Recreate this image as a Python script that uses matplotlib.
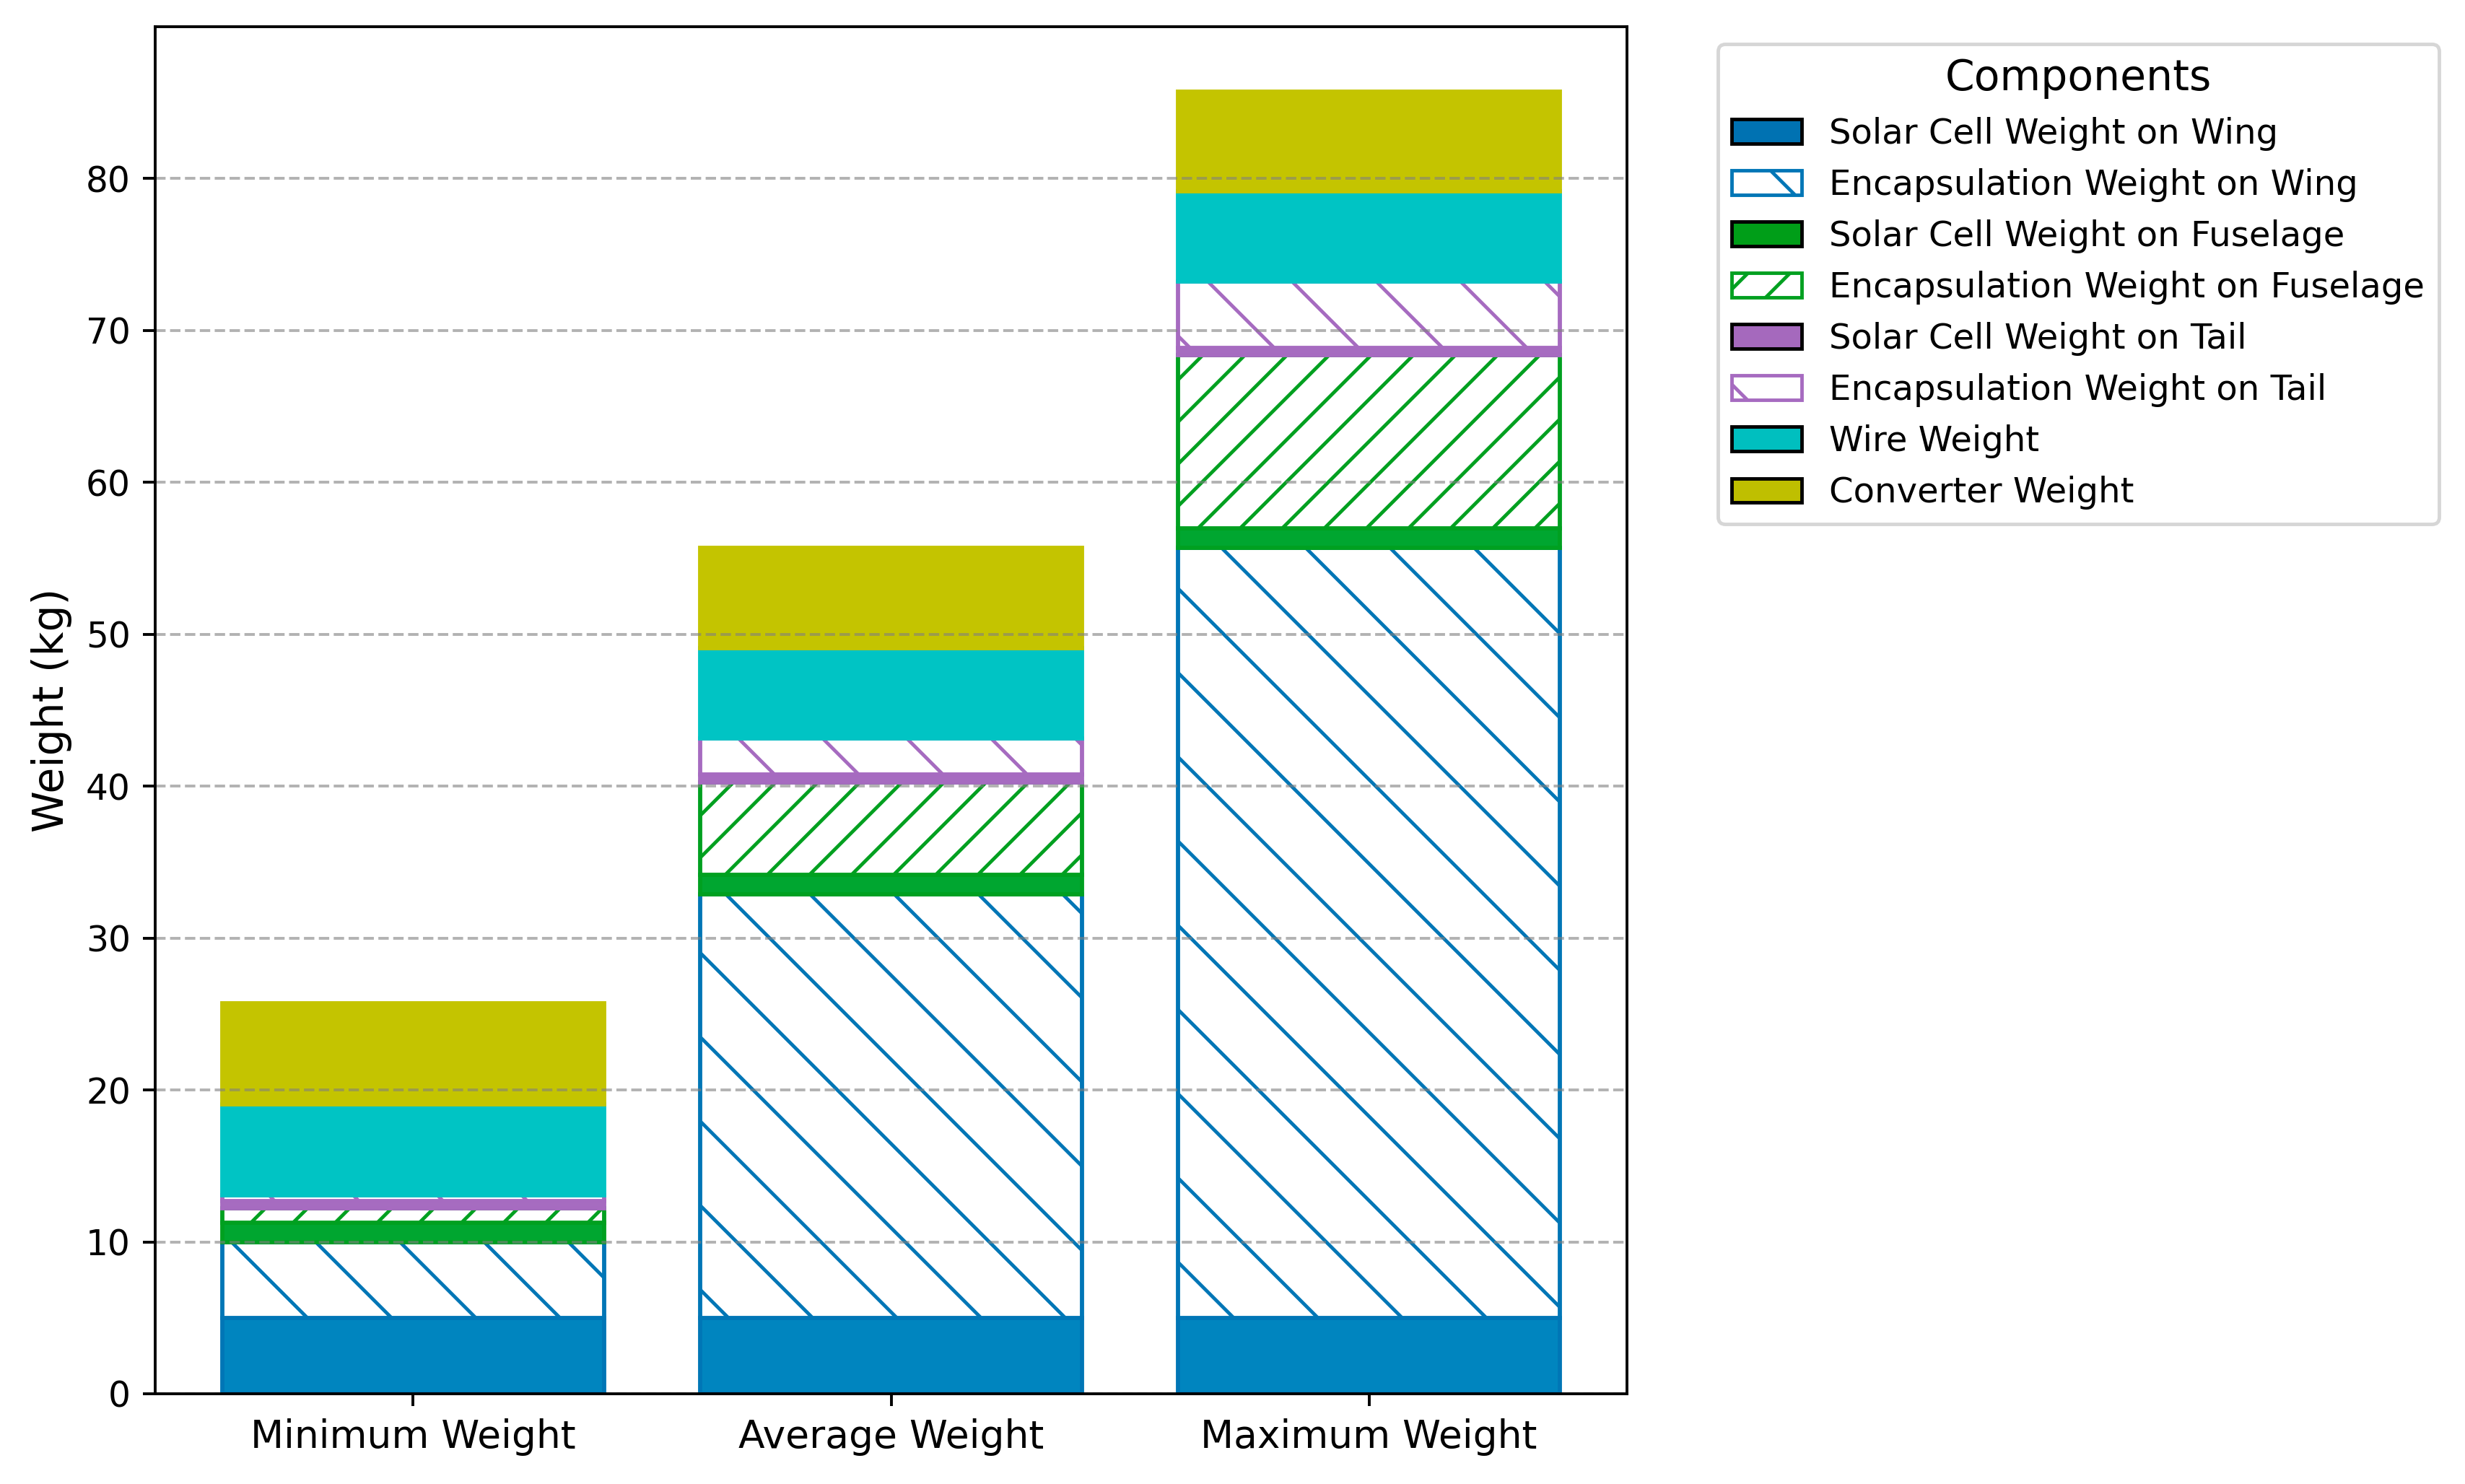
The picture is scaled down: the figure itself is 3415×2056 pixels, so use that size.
import matplotlib
matplotlib.use("Agg")
import matplotlib.pyplot as plt
from matplotlib.patches import Patch
import numpy as np

categories = ['Minimum Weight', 'Average Weight', 'Maximum Weight']
solar_wing = [5.0, 5.0, 5.0]
encap_wing = [5.0, 27.9, 50.7]
solar_fuselage = [1.25, 1.25, 1.25]
encap_fuselage = [0.95, 6.1, 11.4]
solar_tail = [0.5, 0.5, 0.5]
encap_tail = [0.35, 2.4, 4.35]
wire = [6.0, 5.95, 5.95]
converter = [6.65, 6.6, 6.55]
yticks = [0, 10, 20, 30, 40, 50, 60, 70, 80]

labels = ['Solar Cell Weight on Wing', 'Encapsulation Weight on Wing',
          'Solar Cell Weight on Fuselage', 'Encapsulation Weight on Fuselage',
          'Solar Cell Weight on Tail', 'Encapsulation Weight on Tail',
          'Wire Weight', 'Converter Weight']

# (bar face, bar edge / hatch, legend colour)
c_wing = ('#0085BF', '#0076B6', '#0072B2')
c_fus = ('#00A630', '#00A020', '#009E18')
c_tail = ('#A66CC0', '#A66BC0', '#A569BD')
c_wire = ('#00C4C4', '#00C4C4', '#00BFBF')
c_conv = ('#C4C400', '#C4C400', '#BFBF00')

DPI = 350
W, H = 3415, 2056
fig = plt.figure(figsize=(W / DPI, H / DPI), dpi=DPI)
ax = fig.add_axes([215 / W, (H - 1931) / H, 2039 / W, 1894 / H])

x = np.arange(len(categories))
bottom = np.zeros(len(categories))
series = [
    (solar_wing, c_wing, None),
    (encap_wing, c_wing, '\\'),
    (solar_fuselage, c_fus, None),
    (encap_fuselage, c_fus, '//'),
    (solar_tail, c_tail, None),
    (encap_tail, c_tail, '\\'),
    (wire, c_wire, None),
    (converter, c_conv, None),
]
lw = 1.2
for vals, col, hatch in series:
    vals = np.array(vals)
    if hatch is None:
        ax.bar(x, vals, 0.8, bottom=bottom, facecolor=col[0], edgecolor=col[1],
               linewidth=lw)
    else:
        ax.bar(x, vals, 0.8, bottom=bottom, facecolor='white', edgecolor=col[1],
               hatch=hatch, linewidth=lw)
    bottom = bottom + vals

ax.set_xticks(x)
ax.set_xticklabels(categories, fontsize=11)
ax.set_yticks(yticks)
ax.set_ylabel('Weight (kg)', fontsize=12)
ax.yaxis.grid(True, linestyle='--', color='gray', alpha=0.6)

handles = []
for (vals, col, hatch), lab in zip(series, labels):
    if hatch is None:
        handles.append(Patch(facecolor=col[2], edgecolor='black', label=lab))
    else:
        handles.append(Patch(facecolor='white', edgecolor=col[1], hatch=hatch, label=lab))
ax.legend(handles=handles, title='Components', bbox_to_anchor=(1.05, 1),
          loc='upper left', fontsize=9.92, title_fontsize=12)

fig.savefig('out.png', dpi=DPI)
